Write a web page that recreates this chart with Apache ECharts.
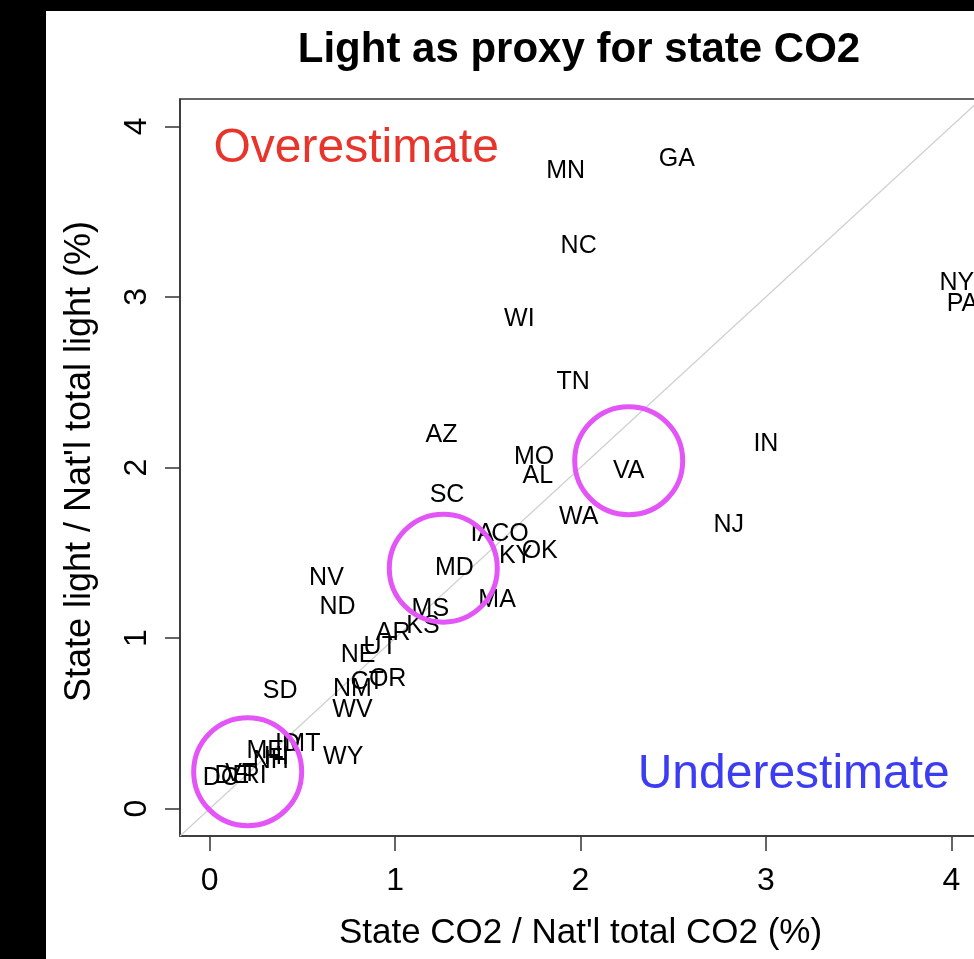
<!DOCTYPE html>
<html>
<head>
<meta charset="utf-8">
<script src="https://cdn.jsdelivr.net/npm/echarts@6/dist/echarts.min.js"></script>
<style>
  html, body { margin: 0; padding: 0; background: #000; width: 974px; height: 959px; overflow: hidden; }
  #chart { position: absolute; left: 46px; top: 11px; width: 960px; height: 948px; background: #fff; }
</style>
</head>
<body>
<div id="chart"></div>
<script>
// ---- data ----
const states = ['GA','MN','NC','NY','PA','WI','TN','AZ','IN','MO','AL','VA','SC','WA','NJ','IA','CO','KY','OK','MD','MA','NV','ND','MS','KS','AR','NE','UT','OR','NM','CT','WV','SD','WY','MT','ID','HI','NH','ME','VT','RI','DE','DC'];
const co2   = [2.52, 1.92, 1.99, 4.03, 4.06, 1.67, 1.96, 1.25, 3.00, 1.75, 1.77, 2.26, 1.28, 1.99, 2.80, 1.47, 1.62, 1.65, 1.78, 1.32, 1.55, 0.63, 0.69, 1.19, 1.15, 0.99, 0.80, 0.92, 0.96, 0.77, 0.85, 0.77, 0.38, 0.72, 0.50, 0.42, 0.36, 0.33, 0.30, 0.17, 0.24, 0.12, 0.06];
const light = [3.81, 3.74, 3.30, 3.08, 2.96, 2.87, 2.50, 2.19, 2.14, 2.06, 1.95, 1.98, 1.84, 1.71, 1.66, 1.61, 1.61, 1.48, 1.51, 1.41, 1.22, 1.35, 1.18, 1.17, 1.07, 1.03, 0.90, 0.95, 0.76, 0.70, 0.74, 0.58, 0.69, 0.30, 0.38, 0.38, 0.30, 0.28, 0.34, 0.20, 0.19, 0.19, 0.18];
const ticks = [0, 1, 2, 3, 4];
const axisMin = -0.16, axisMax = 4.16;
const diagonal = [[axisMin, axisMin], [axisMax, axisMax]];
// highlight circles (data coordinates of centers)
const circleX = [0.205, 1.26, 2.26];
const circleY = [0.217, 1.41, 2.04];
// annotation words
const noteText = ['Overestimate', 'Underestimate'];
const noteX = [0.79, 3.15];
const noteY = [3.87, 0.20];
const noteColor = ['#e8352b', '#3c3cf2'];

const FONT = 'Liberation Sans, Arial, Helvetica, sans-serif';

const chart = echarts.init(document.getElementById('chart'), null, { renderer: 'canvas' });
chart.setOption({
  backgroundColor: '#fff',
  animation: false,
  title: {
    text: 'Light as proxy for state CO2',
    left: 528, top: 13, textAlign: 'center',
    textStyle: { fontFamily: FONT, fontWeight: 'bold', fontSize: 42, color: '#000' }
  },
  grid: { left: 134, top: 88, width: 801, height: 737, show: true, borderColor: '#333', borderWidth: 1.5, backgroundColor: 'transparent' },
  xAxis: {
    type: 'value', min: axisMin, max: axisMax,
    name: "State CO2 / Nat'l total CO2 (%)", nameLocation: 'middle', nameGap: 80,
    nameTextStyle: { fontFamily: FONT, fontSize: 35, color: '#000' },
    axisLine: { show: true, onZero: false, lineStyle: { color: '#333', width: 1.5 } },
    axisTick: { show: true, length: 15, inside: false, customValues: ticks, lineStyle: { color: '#333', width: 1.5 } },
    axisLabel: { customValues: ticks, margin: 29, fontFamily: FONT, fontSize: 32, color: '#000' },
    splitLine: { show: false }
  },
  yAxis: {
    type: 'value', min: axisMin, max: axisMax,
    name: "State light / Nat'l total light (%)", nameLocation: 'middle', nameGap: 82,
    nameTextStyle: { fontFamily: FONT, fontSize: 36, color: '#000', padding: [0, 0, 0, 12] },
    axisLine: { show: true, onZero: false, lineStyle: { color: '#333', width: 1.5 } },
    axisTick: { show: true, length: 15, inside: false, customValues: ticks, lineStyle: { color: '#333', width: 1.5 } },
    axisLabel: { customValues: ticks, rotate: 90, margin: 27, fontFamily: FONT, fontSize: 32, color: '#000' },
    splitLine: { show: false }
  },
  series: [
    {
      type: 'line', data: diagonal, symbol: 'none', silent: true, z: 1,
      lineStyle: { color: '#cfcfcf', width: 1.2 }
    },
    {
      type: 'scatter', z: 3, symbolSize: 0,
      itemStyle: { opacity: 1 },
      data: states.map((s, i) => [co2[i], light[i], s]),
      label: {
        show: true, position: 'inside', formatter: p => p.data[2],
        fontFamily: FONT, fontSize: 25, color: '#000'
      }
    },
    {
      type: 'scatter', z: 4, symbol: 'circle', symbolSize: 108,
      data: circleX.map((x, i) => [x, circleY[i]]),
      itemStyle: { opacity: 1, color: 'rgba(0,0,0,0)', borderColor: '#e455f7', borderWidth: 5 }
    },
    {
      type: 'scatter', z: 3, symbolSize: 0,
      itemStyle: { opacity: 1 },
      data: noteText.map((t, i) => ({ value: [noteX[i], noteY[i]], name: t,
        label: { color: noteColor[i] } })),
      label: { show: true, position: 'inside', formatter: p => p.name, fontFamily: FONT, fontSize: 48 }
    }
  ]
});
</script>
</body>
</html>
